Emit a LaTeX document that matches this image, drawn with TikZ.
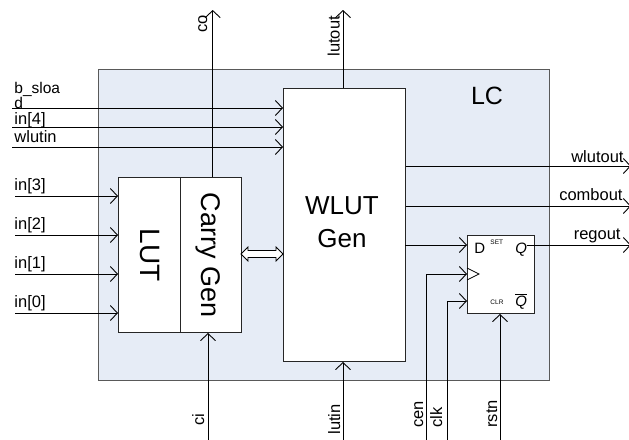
\documentclass[tikz,border=0pt]{standalone}
\usepackage{fontspec}
\setmainfont{Liberation Sans}
\usetikzlibrary{arrows.meta}
\definecolor{lcblue}{HTML}{E6ECF6}
\begin{document}
\begin{tikzpicture}[x=1pt,y=-1pt,
  line width=0.9pt,
  arr/.style={-{Straight Barb[length=7pt,width=15pt,line width=0.9pt]}},
  blk/.style={draw=black!85, fill=white, anchor=north west, inner sep=0pt, line width=1pt},
  lbl/.style={font=\fontsize{16.5}{17}\selectfont, inner sep=0pt},
  slbl/.style={font=\fontsize{15.5}{16}\selectfont, inner sep=0pt},
  rlbl/.style={lbl, rotate=90, anchor=base west},
  tiny/.style={font=\fontsize{6.5}{7}\selectfont, inner sep=0pt}
]
\useasboundingbox (0,0) rectangle (629,439);
% LC container
\node[draw=black!65, fill=lcblue, anchor=north west, minimum width=451pt, minimum height=311pt, inner sep=0pt] (lc) at (98,69) {};
\node[font=\fontsize{25}{26}\selectfont, inner sep=0pt] (lct) at (487,96) {LC};
% coordinates
\coordinate (coT) at (212.7,10);
\coordinate (luT) at (343,10);
\coordinate (bs) at (12,108);
\coordinate (i4) at (12,127);
\coordinate (wi) at (12,147);
\coordinate (i3) at (15,196);
\coordinate (i2) at (15,235);
\coordinate (i1) at (15,274);
\coordinate (i0) at (15,313);
\coordinate (wo) at (631,166);
\coordinate (cb) at (631,206);
\coordinate (ro) at (631,245);
\coordinate (qpt) at (527,245);
\coordinate (dy) at (405,245);
\coordinate (ciB) at (208,440);
\coordinate (luB) at (343,440);
\coordinate (clkB) at (426,440);
\coordinate (cenB) at (447,440);
\coordinate (rsB) at (500,440);
\coordinate (ckin) at (467,274);
\coordinate (cein) at (467,301);
% blocks
\node[blk, minimum width=122pt, minimum height=273pt] (wlut) at (283,88) {};
\node[blk, minimum width=62pt, minimum height=155pt] (lut) at (118,177) {};
\node[blk, minimum width=61pt, minimum height=155pt] (carry) at (180,177) {};
\node[blk, minimum width=67pt, minimum height=78pt] (ff) at (467,235) {};
% block texts
\node[font=\fontsize{26}{33}\selectfont, align=center, inner sep=0pt] (wlutt) at (342,222) {WLUT\\Gen};
\node[font=\fontsize{28}{29}\selectfont, rotate=-90, inner sep=0pt] (lutt) at (150,255) {LUT};
\node[font=\fontsize{27}{28}\selectfont, rotate=-90, inner sep=0pt] (carryt) at (208.5,255) {Carry Gen};
\node[font=\fontsize{15}{16}\selectfont, inner sep=0pt, anchor=base west] (dl) at (474,253) {D};
\node[tiny, anchor=base west] (setl) at (490,244) {SET};
\node[tiny, anchor=base west] (clrl) at (490,304) {CLR};
\node[font=\fontsize{15}{16}\selectfont, inner sep=0pt, anchor=base west] (ql) at (515,253) {\textit{Q}};
\node[font=\fontsize{15}{16}\selectfont, inner sep=0pt, anchor=base west] (qbl) at (515,306) {$\overline{\mbox{\textit{Q}}}$};
% clock triangle
\draw[line width=0.8pt] (467,268) -- (479,274) -- (467,280);
% vertical outputs
\draw[arr] (carry.north -| coT) -- (coT);
\draw[arr] (wlut.north -| luT) -- (luT);
% inputs
\draw[arr] (bs) -- (bs -| wlut.west);
\draw[arr] (i4) -- (i4 -| wlut.west);
\draw[arr] (wi) -- (wi -| wlut.west);
\draw[arr] (i3) -- (i3 -| lut.west);
\draw[arr] (i2) -- (i2 -| lut.west);
\draw[arr] (i1) -- (i1 -| lut.west);
\draw[arr] (i0) -- (i0 -| lut.west);
% outputs
\draw[arr] (wo -| wlut.east) -- (wo);
\draw[arr] (cb -| wlut.east) -- (cb);
\draw[arr] (qpt) -- (ro);
\draw[arr] (dy) -- (dy -| ff.west);
% bottom inputs
\draw[arr] (ciB) -- (ciB |- lut.south);
\draw[arr] (luB) -- (luB |- wlut.south);
\draw[arr] (clkB) |- (ckin);
\draw[arr] (cenB) |- (cein);
\draw[arr] (rsB) -- (rsB |- ff.south);
% double arrow between Carry Gen and WLUT
\draw[fill=white, line width=0.8pt] (241,254) -- (248,247) -- (248,250.5) -- (276,250.5) -- (276,247) -- (283,254) -- (276,261) -- (276,257.5) -- (248,257.5) -- (248,261) -- cycle;
% labels
\node[slbl, anchor=base west] (bsl) at (14,93) {b\_sloa};
\node[slbl, anchor=base west] (bsl2) at (14,108.5) {d};
\node[lbl, anchor=base west] (i4l) at (14,124.5) {in[4]};
\node[lbl, anchor=base west] (wil) at (14,142) {wlutin};
\node[lbl, anchor=base west] (i3l) at (14,190) {in[3]};
\node[lbl, anchor=base west] (i2l) at (14,229) {in[2]};
\node[lbl, anchor=base west] (i1l) at (14,268) {in[1]};
\node[lbl, anchor=base west] (i0l) at (14,307) {in[0]};
\node[lbl, anchor=base east] (wol) at (624,162) {wlutout};
\node[lbl, anchor=base east] (cbl) at (623,200) {combout};
\node[lbl, anchor=base east] (rol) at (621,239) {regout};
\node[rlbl] (col) at (207,33) {co};
\node[rlbl] (lul) at (339.5,57) {lutout};
\node[rlbl] (cil) at (204,426) {ci};
\node[rlbl] (lil) at (340,435) {lutin};
\node[rlbl] (cenl) at (423,428) {cen};
\node[rlbl] (clkl) at (442,428) {clk};
\node[rlbl] (rsl) at (497,428) {rstn};
\end{tikzpicture}
\end{document}
